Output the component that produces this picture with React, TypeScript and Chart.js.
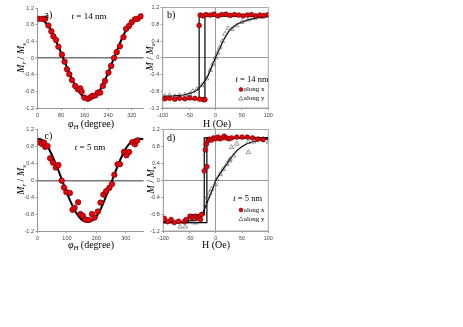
import React, { useEffect, useRef } from "react";
import { Chart, registerables } from "chart.js";
Chart.register(...registerables);

const SERIF = '"Liberation Serif", "Times New Roman", serif';
const SANS = '"Liberation Sans", Arial, sans-serif';

// ---------- Panel a: t = 14 nm, angular dependence ----------
const aAngle = [3, 15, 26, 37, 47, 54, 63, 71, 83, 92, 100, 108, 117, 128, 137, 145, 150, 159, 171, 179, 186, 196, 205, 213, 222, 229, 241, 250, 260, 269, 280, 292, 301, 311, 320, 331, 340, 351];
const aMr = [0.94, 0.94, 0.94, 0.78, 0.64, 0.52, 0.43, 0.27, 0.08, -0.09, -0.27, -0.39, -0.53, -0.67, -0.75, -0.73, -0.81, -0.95, -0.98, -0.95, -0.91, -0.9, -0.83, -0.83, -0.67, -0.55, -0.35, -0.19, 0.0, 0.14, 0.28, 0.5, 0.7, 0.77, 0.86, 0.93, 0.94, 1.0];
const aFitAngle = [0, 10, 20, 30, 40, 50, 60, 70, 80, 90, 100, 110, 120, 130, 140, 150, 160, 170, 180, 190, 200, 210, 220, 230, 240, 250, 260, 270, 280, 290, 300, 310, 320, 330, 340, 350, 355];
const aFitMr = [0.95, 0.94, 0.9, 0.83, 0.73, 0.6, 0.45, 0.3, 0.12, -0.05, -0.22, -0.4, -0.55, -0.69, -0.8, -0.89, -0.95, -0.98, -0.98, -0.95, -0.89, -0.8, -0.67, -0.52, -0.35, -0.17, 0.0, 0.18, 0.36, 0.52, 0.66, 0.78, 0.87, 0.93, 0.97, 1.0, 1.0];

// ---------- Panel c: t = 5 nm, angular dependence ----------
const cAngle = [3, 15, 22, 26, 34, 43, 52, 62, 71, 82, 90, 98, 110, 119, 126, 138, 146, 154, 163, 175, 185, 194, 205, 214, 224, 233, 244, 253, 261, 272, 280, 294, 302, 311, 322, 331, 339];
const cMr = [0.9, 0.86, 0.89, 0.79, 0.81, 0.52, 0.42, 0.3, 0.36, -0.01, -0.17, -0.28, -0.3, -0.7, -0.65, -0.52, -0.8, -0.84, -0.93, -0.94, -0.8, -0.88, -0.74, -0.53, -0.34, -0.26, -0.18, -0.09, 0.13, 0.38, 0.38, 0.67, 0.59, 0.67, 0.9, 0.85, 0.94];
const cFitAngle = [0, 10, 20, 30, 40, 50, 60, 70, 80, 90, 100, 110, 120, 130, 140, 150, 160, 170, 180, 190, 200, 210, 220, 230, 240, 250, 260, 270, 280, 290, 300, 310, 320, 330, 340, 350, 360];
const cFitMr = [0.98, 0.97, 0.93, 0.85, 0.73, 0.58, 0.42, 0.25, 0.07, -0.12, -0.3, -0.47, -0.62, -0.75, -0.86, -0.93, -0.97, -0.98, -0.97, -0.93, -0.86, -0.75, -0.6, -0.43, -0.25, -0.07, 0.12, 0.3, 0.47, 0.62, 0.75, 0.85, 0.92, 0.96, 0.98, 0.98, 0.97];

// ---------- Panel b: t = 14 nm, hysteresis ----------
const bxH = [-96, -87, -77, -68, -58, -49, -39, -30, -23, -20, -31, -29, -24, -18, -10, -3, 5, 12, 20, 28, 36, 44, 52, 60, 68, 76, 84, 92, 100];
const bxM = [-0.98, -0.97, -0.99, -0.97, -0.98, -0.96, -0.97, -0.99, -1.0, -1.0, 0.77, 1.02, 1.0, 1.03, 1.02, 1.04, 1.0, 1.03, 1.04, 1.01, 1.03, 1.02, 1.0, 1.02, 1.03, 1.0, 1.02, 1.01, 1.03];
const byH = [-96, -87, -77, -68, -58, -49, -43, -35, -26, -17, -10, -5, 0, 4, 8, 13, 18, 24, 31, 40, 50, 62, 75, 88, 100];
const byM = [-0.92, -0.9, -0.92, -0.9, -0.88, -0.87, -0.8, -0.75, -0.66, -0.5, -0.3, -0.15, 0.0, 0.12, 0.25, 0.4, 0.57, 0.7, 0.68, 0.77, 0.85, 0.91, 0.95, 0.97, 1.0];
const bFitH = [-100, -80, -60, -45, -35, -25, -15, -5, 0, 5, 15, 25, 35, 45, 60, 80, 100];
const bFitM = [-0.92, -0.91, -0.89, -0.84, -0.77, -0.64, -0.45, -0.15, 0, 0.14, 0.42, 0.63, 0.75, 0.83, 0.9, 0.96, 0.99];
const bLoopDownH = [100, -31, -31, -100];
const bLoopDownM = [1.0, 1.0, -0.98, -0.98];
const bLoopUpH = [-100, -20, -20, 100];
const bLoopUpM = [-0.98, -0.98, 1.0, 1.0];

// ---------- Panel d: t = 5 nm, hysteresis ----------
const dxH = [-98, -92, -85, -79, -71, -60, -57, -49, -45, -39, -35, -31, -27, -29, -22, -17, -20, -18, -15, -12, -8, -4, 0, 4, 8, 12, 16, 20, 25, 30, 40, 50, 60, 70, 80, 90];
const dxM = [-0.9, -0.98, -0.93, -1.0, -0.97, -0.98, -0.93, -0.85, -0.89, -0.85, -0.89, -0.85, -0.81, -0.93, 0.22, 0.32, 0.72, 0.85, 0.93, 0.97, 0.95, 1.0, 0.98, 1.02, 0.98, 1.0, 1.04, 1.0, 0.98, 1.0, 1.02, 1.02, 1.02, 1.0, 0.97, 0.96];
const dyH = [-68, -58, -42, -37, -20, -17, -12, -8, -1, 2, 8, 14, 21, 26, 27, 30, 34, 40, 62, 62, 72, 81, 91, 100];
const dyM = [-1.1, -1.1, -1.0, -1.0, -0.57, -0.41, -0.3, -0.21, -0.1, 0.02, 0.14, 0.26, 0.38, 0.46, 0.5, 0.78, 0.58, 0.86, 0.9, 0.66, 0.91, 0.98, 0.98, 0.91];
const dFitH = [-100, -60, -40, -30, -22, -15, -8, 0, 8, 15, 22, 30, 40, 50, 60, 80, 100];
const dFitM = [-0.98, -0.97, -0.95, -0.9, -0.7, -0.48, -0.27, 0, 0.15, 0.28, 0.4, 0.55, 0.7, 0.8, 0.87, 0.94, 0.98];
const dLoopDownH = [100, -22, -22, -52, -52, -100];
const dLoopDownM = [1.0, 1.0, -0.82, -0.82, -1.0, -1.0];
const dLoopUpH = [-100, -17, -17, 100];
const dLoopUpM = [-1.0, -1.0, 1.0, 1.0];

// Axis tick settings
const yTickMin = -1.2;
const yTickMax = 1.2;
const yTickStep = 0.4;
const angleMax = 360;
const fieldMin = -100;
const fieldMax = 100;

const RED = "#e8000b";
const zip = (xs: number[], ys: number[]) => xs.map((x, i) => ({ x, y: ys[i] }));

type Seg = { t: string; it?: boolean; sub?: boolean };
function drawRich(ctx: CanvasRenderingContext2D, segs: Seg[], x: number, y: number, size: number, align: "left" | "center" | "right" = "center", rot = 0) {
  ctx.save();
  ctx.translate(x, y);
  ctx.rotate(rot);
  const fontFor = (s: Seg) => `${s.it ? "italic " : ""}${s.sub ? size * 0.68 : size}px ${SERIF}`;
  let w = 0;
  for (const s of segs) {
    ctx.font = fontFor(s);
    w += ctx.measureText(s.t).width;
  }
  let cx = align === "center" ? -w / 2 : align === "right" ? -w : 0;
  ctx.textBaseline = "middle";
  ctx.textAlign = "left";
  ctx.fillStyle = "#000";
  for (const s of segs) {
    ctx.font = fontFor(s);
    ctx.fillText(s.t, cx, s.sub ? size * 0.3 : 0);
    cx += ctx.measureText(s.t).width;
  }
  ctx.restore();
}

const mrTitle: Seg[] = [{ t: "M", it: true }, { t: "r", it: true, sub: true }, { t: " / " }, { t: "M", it: true }, { t: "s", it: true, sub: true }];
const mTitle: Seg[] = [{ t: "M", it: true }, { t: " / " }, { t: "M", it: true }, { t: "s", it: true, sub: true }];
const phiTitle: Seg[] = [{ t: "φ", it: true }, { t: "H", it: true, sub: true }, { t: " (degree)" }];
const hTitle: Seg[] = [{ t: "H (Oe)" }];

function legendMarks(ctx: CanvasRenderingContext2D, x: number, y1: number, y2: number) {
  ctx.save();
  ctx.beginPath();
  ctx.arc(x, y1, 2, 0, Math.PI * 2);
  ctx.fillStyle = RED;
  ctx.fill();
  ctx.lineWidth = 0.5;
  ctx.strokeStyle = "#500";
  ctx.stroke();
  ctx.beginPath();
  ctx.moveTo(x, y2 - 2.2);
  ctx.lineTo(x - 2.2, y2 + 1.6);
  ctx.lineTo(x + 2.2, y2 + 1.6);
  ctx.closePath();
  ctx.lineWidth = 0.6;
  ctx.strokeStyle = "#444";
  ctx.stroke();
  ctx.restore();
  drawRich(ctx, [{ t: "along x" }], x + 2.8, y1, 7, "left");
  drawRich(ctx, [{ t: "along y" }], x + 2.8, y2, 7, "left");
}

interface PanelSpec {
  area: { l: number; r: number; t: number; b: number };
  xMin: number;
  xMax: number;
  xStep: number;
  frame: boolean;
  datasets: any[];
  draw: (ctx: CanvasRenderingContext2D) => void;
}

const pointsSet = (data: any[], radius: number) => ({
  data, showLine: false, pointRadius: radius, pointStyle: "circle",
  backgroundColor: RED, borderColor: "#5a0000", borderWidth: 0.6, order: 0,
});
const triSet = (data: any[]) => ({
  data, showLine: false, pointRadius: 2.6, pointStyle: "triangle",
  backgroundColor: "rgba(255,255,255,0)", borderColor: "#555", borderWidth: 0.6, order: 0,
});
const lineSet = (data: any[], width: number) => ({
  data, showLine: true, pointRadius: 0, borderColor: "#000", borderWidth: width,
  backgroundColor: "#000", fill: false, tension: 0, order: 1,
});

function buildConfig(p: PanelSpec): any {
  const yWidth = 20;
  const xHeight = 14;
  const tickFont = { family: SANS, size: 5.5 };
  return {
    type: "scatter",
    data: { datasets: p.datasets },
    options: {
      animation: false,
      responsive: false,
      maintainAspectRatio: false,
      events: [],
      layout: {
        padding: { left: p.area.l - yWidth, right: 463 - p.area.r, top: p.area.t, bottom: 327 - p.area.b - xHeight },
      },
      plugins: { legend: { display: false }, tooltip: { enabled: false }, title: { display: false } },
      scales: {
        x: {
          type: "linear",
          position: "bottom",
          min: p.xMin,
          max: p.xMax,
          ticks: { stepSize: p.xStep, includeBounds: false, font: tickFont, color: "#444", padding: 2, maxRotation: 0, autoSkip: false },
          grid: {
            drawOnChartArea: p.frame,
            color: (c: any) => (c.tick && c.tick.value === 0 ? "#9a9a9a" : "rgba(0,0,0,0)"),
            lineWidth: 1,
            tickColor: "#999",
            tickLength: 2,
          },
          border: { display: true, color: "#999", width: 1 },
          afterFit: (s: any) => { s.height = xHeight; },
        },
        y: {
          type: "linear",
          min: yTickMin,
          max: yTickMax,
          ticks: {
            stepSize: yTickStep,
            font: tickFont,
            color: "#444",
            padding: 1.5,
            callback: (v: number) => (Math.abs(v) < 1e-9 ? "0" : Number(v).toFixed(1)),
          },
          grid: {
            color: (c: any) => (c.tick && Math.abs(c.tick.value) < 1e-9 ? (p.frame ? "#9a9a9a" : "#777") : "rgba(0,0,0,0)"),
            lineWidth: (c: any) => (c.tick && Math.abs(c.tick.value) < 1e-9 && !p.frame ? 1.5 : 1),
            tickColor: "#999",
            tickLength: 2,
          },
          border: { display: true, color: "#999", width: 1 },
          afterFit: (s: any) => { s.width = yWidth; },
        },
      },
    },
    plugins: [
      {
        id: "frameAndText",
        beforeDatasetsDraw(chart: any) {
          if (!p.frame) return;
          const { left, right, top, bottom } = chart.chartArea;
          const ctx = chart.ctx;
          ctx.save();
          ctx.strokeStyle = "#a8a8a8";
          ctx.lineWidth = 1;
          ctx.strokeRect(left, top, right - left, bottom - top);
          ctx.restore();
        },
        afterDraw(chart: any) {
          p.draw(chart.ctx);
        },
      },
    ],
  };
}

const panels: PanelSpec[] = [
  {
    area: { l: 37.5, r: 143.5, t: 8, b: 108 },
    xMin: 0, xMax: angleMax, xStep: 80, frame: false,
    datasets: [pointsSet(zip(aAngle, aMr), 2.8), lineSet(zip(aFitAngle, aFitMr), 2)],
    draw: (ctx) => {
      drawRich(ctx, [{ t: "a)" }], 44.5, 15, 10, "left");
      drawRich(ctx, [{ t: "t", it: true }, { t: " = 14 nm" }], 89, 17, 9, "center");
      drawRich(ctx, phiTitle, 91, 124, 10, "center");
      drawRich(ctx, mrTitle, 21, 58, 10, "center", -Math.PI / 2);
    },
  },
  {
    area: { l: 162.7, r: 268.3, t: 7.5, b: 108 },
    xMin: fieldMin, xMax: fieldMax, xStep: 50, frame: true,
    datasets: [
      pointsSet(zip(bxH, bxM), 2.4),
      triSet(zip(byH, byM)),
      lineSet(zip(bLoopDownH, bLoopDownM), 1.2),
      lineSet(zip(bLoopUpH, bLoopUpM), 1.2),
      lineSet(zip(bFitH, bFitM), 1.2),
    ],
    draw: (ctx) => {
      drawRich(ctx, [{ t: "b)" }], 167, 15, 10, "left");
      drawRich(ctx, [{ t: "t", it: true }, { t: " = 14 nm" }], 268.5, 80, 8.5, "right");
      legendMarks(ctx, 241, 89.5, 98.5);
      drawRich(ctx, hTitle, 217, 124, 10, "center");
      drawRich(ctx, mTitle, 150, 57, 10, "center", -Math.PI / 2);
    },
  },
  {
    area: { l: 37.5, r: 143.5, t: 129.5, b: 231 },
    xMin: 0, xMax: angleMax, xStep: 100, frame: false,
    datasets: [pointsSet(zip(cAngle, cMr), 2.8), lineSet(zip(cFitAngle, cFitMr), 2)],
    draw: (ctx) => {
      drawRich(ctx, [{ t: "c)" }], 44.5, 136.5, 10, "left");
      drawRich(ctx, [{ t: "t", it: true }, { t: " = 5 nm" }], 90, 147.5, 9, "center");
      drawRich(ctx, phiTitle, 91, 245, 10, "center");
      drawRich(ctx, mrTitle, 21, 180, 10, "center", -Math.PI / 2);
    },
  },
  {
    area: { l: 163.3, r: 268.3, t: 129.5, b: 231 },
    xMin: fieldMin, xMax: fieldMax, xStep: 50, frame: true,
    datasets: [
      pointsSet(zip(dxH, dxM), 2.4),
      triSet(zip(dyH, dyM)),
      lineSet(zip(dLoopDownH, dLoopDownM), 1.2),
      lineSet(zip(dLoopUpH, dLoopUpM), 1.2),
      lineSet(zip(dFitH, dFitM), 1.2),
    ],
    draw: (ctx) => {
      drawRich(ctx, [{ t: "d)" }], 167, 138, 10, "left");
      drawRich(ctx, [{ t: "t", it: true }, { t: " = 5 nm" }], 262, 198.5, 8.5, "right");
      legendMarks(ctx, 241, 210, 219);
      drawRich(ctx, hTitle, 216, 245.5, 10, "center");
      drawRich(ctx, mTitle, 151, 180, 10, "center", -Math.PI / 2);
    },
  },
];

export default function App() {
  const refs = [useRef<HTMLCanvasElement>(null), useRef<HTMLCanvasElement>(null), useRef<HTMLCanvasElement>(null), useRef<HTMLCanvasElement>(null)];
  useEffect(() => {
    const charts = panels.map((p, i) => new Chart(refs[i].current as HTMLCanvasElement, buildConfig(p)));
    return () => charts.forEach((c) => c.destroy());
  }, []);
  return (
    <div style={{ position: "fixed", left: 0, top: 0, width: 463, height: 327, background: "#fff", overflow: "hidden" }}>
      {refs.map((r, i) => (
        <canvas key={i} ref={r} width={463} height={327} style={{ position: "absolute", left: 0, top: 0, width: 463, height: 327 }} />
      ))}
    </div>
  );
}
